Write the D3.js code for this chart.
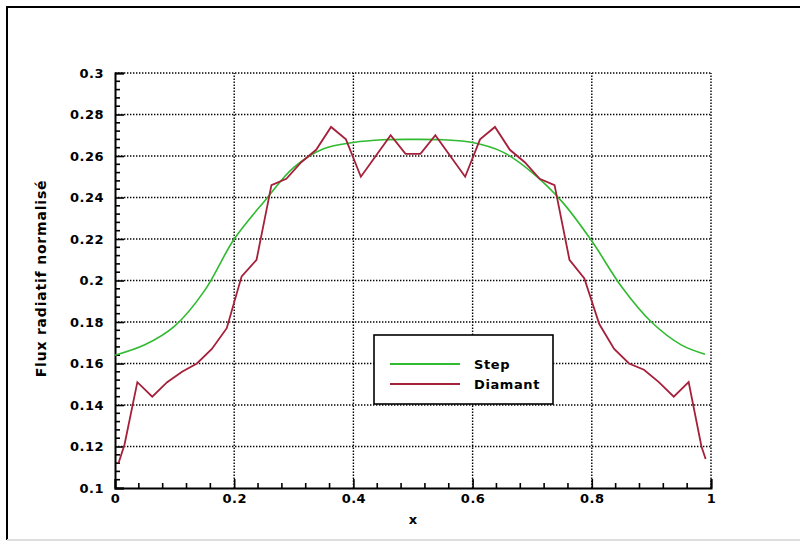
<!DOCTYPE html>
<html>
<head>
<meta charset="utf-8">
<script src="https://cdn.jsdelivr.net/npm/d3@7"></script>
<style>
  body { margin: 0; background: #fff; }
  svg { display: block; }
  text { font-family: "DejaVu Sans", sans-serif; font-weight: bold; fill: #000; }
</style>
</head>
<body>
<div id="chart"></div>
<script>
// values
let xMajor = [0, 0.2, 0.4, 0.6, 0.8, 1];
let xMinor = [0.04, 0.08, 0.12, 0.16, 0.24, 0.28, 0.32, 0.36, 0.44, 0.48, 0.52, 0.56,
              0.64, 0.68, 0.72, 0.76, 0.84, 0.88, 0.92, 0.96];
let yMajor = [0.1, 0.12, 0.14, 0.16, 0.18, 0.2, 0.22, 0.24, 0.26, 0.28, 0.3];
let yMinor = [0.104, 0.108, 0.112, 0.116, 0.124, 0.128, 0.132, 0.136, 0.144, 0.148, 0.152, 0.156,
              0.164, 0.168, 0.172, 0.176, 0.184, 0.188, 0.192, 0.196, 0.204, 0.208, 0.212, 0.216,
              0.224, 0.228, 0.232, 0.236, 0.244, 0.248, 0.252, 0.256, 0.264, 0.268, 0.272, 0.276,
              0.284, 0.288, 0.292, 0.296];
let yTickLabels = ["0.1", "0.12", "0.14", "0.16", "0.18", "0.2", "0.22", "0.24", "0.26", "0.28", "0.3"];
let xTickLabels = ["0", "0.2", "0.4", "0.6", "0.8", "1"];

let stepX = [0, 0.05, 0.1, 0.15, 0.2, 0.25, 0.3, 0.35, 0.4, 0.45, 0.5,
             0.55, 0.6, 0.65, 0.7, 0.75, 0.8, 0.85, 0.9, 0.95, 0.99];
let stepY = [0.164, 0.169, 0.178, 0.195, 0.220, 0.238, 0.2545, 0.2635, 0.2665, 0.2678, 0.268,
             0.2678, 0.2665, 0.262, 0.252, 0.238, 0.219, 0.197, 0.180, 0.169, 0.1645];

let diamX = [0.006, 0.016, 0.0375, 0.0625, 0.0875, 0.1125, 0.1375, 0.1625, 0.1875, 0.2125,
             0.2375, 0.2625, 0.2875, 0.3125, 0.3375, 0.3625, 0.3875, 0.4125, 0.4375, 0.4625,
             0.4875, 0.5125, 0.5375, 0.5625, 0.5875, 0.6125, 0.6375, 0.6625, 0.6875, 0.7125,
             0.7375, 0.7625, 0.7875, 0.8125, 0.8375, 0.8625, 0.8875, 0.9125, 0.9375, 0.9625,
             0.984, 0.991];
let diamY = [0.112, 0.121, 0.151, 0.144, 0.151, 0.156, 0.160, 0.167, 0.177, 0.202,
             0.210, 0.246, 0.249, 0.257, 0.263, 0.274, 0.268, 0.250, 0.260, 0.270,
             0.261, 0.261, 0.270, 0.260, 0.250, 0.268, 0.274, 0.263, 0.257, 0.249,
             0.246, 0.210, 0.201, 0.179, 0.167, 0.160, 0.157, 0.151, 0.144, 0.151,
             0.120, 0.114];

let width = 800, height = 543;
let margin = ({top: 73, right: 89, bottom: 55, left: 115});
let fontSize = 13;

let x = d3.scaleLinear().domain([0, 1]).range([margin.left, width - margin.right]);
let y = d3.scaleLinear().domain([0.1, 0.3]).range([height - margin.bottom, margin.top]);

const svg = d3.select("#chart").append("svg")
    .attr("width", width)
    .attr("height", height);

// outer frame
svg.append("path")
    .attr("d", `M7,${height - 3}V7H${width + 5}`)
    .attr("fill", "none")
    .attr("stroke", "#000")
    .attr("stroke-width", 2);
svg.append("line")
    .attr("x1", 7).attr("x2", width).attr("y1", 540).attr("y2", 540)
    .attr("stroke", "#ddd").attr("stroke-width", 2);

// dotted grid
const grid = svg.append("g")
    .attr("stroke", "#000")
    .attr("stroke-width", 1.4)
    .attr("stroke-dasharray", "1.4 1.6");

grid.selectAll(".vx")
  .data(xMajor.slice(1))
  .join("line")
    .attr("x1", d => x(d)).attr("x2", d => x(d))
    .attr("y1", y(0.1)).attr("y2", y(0.3));

grid.selectAll(".hy")
  .data(yMajor.slice(1))
  .join("line")
    .attr("x1", x(0)).attr("x2", x(1))
    .attr("y1", d => y(d)).attr("y2", d => y(d));

// axes, ticks pointing inward
svg.append("g")
    .attr("transform", `translate(${x(0)},0)`)
    .call(d3.axisLeft(y).tickValues(yMajor).tickSize(-9).tickPadding(11)
      .tickFormat((d, i) => yTickLabels[i]));

svg.append("g")
    .attr("transform", `translate(0,${y(0.1)})`)
    .call(d3.axisBottom(x).tickValues(xMajor).tickSize(-9).tickPadding(6)
      .tickFormat((d, i) => xTickLabels[i]));

svg.selectAll(".domain").attr("stroke", "#000").attr("stroke-width", 2);
svg.selectAll(".tick line").attr("stroke", "#000").attr("stroke-width", 1.6);
svg.selectAll(".tick text")
    .attr("font-size", fontSize)
    .attr("letter-spacing", "0.5px")
    .attr("font-family", "DejaVu Sans, sans-serif")
    .attr("font-weight", "bold")
    .attr("fill", "#000");

// minor ticks
const minor = svg.append("g")
    .attr("stroke", "#000")
    .attr("stroke-width", 1.6);
minor.selectAll(".my")
  .data(yMinor)
  .join("line")
    .attr("x1", x(0)).attr("x2", x(0) + 5)
    .attr("y1", d => y(d)).attr("y2", d => y(d));
minor.selectAll(".mx")
  .data(xMinor)
  .join("line")
    .attr("x1", d => x(d)).attr("x2", d => x(d))
    .attr("y1", y(0.1)).attr("y2", y(0.1) - 5);

// axis titles
svg.append("text")
    .attr("x", x(0.5))
    .attr("y", 524)
    .attr("text-anchor", "middle")
    .attr("font-size", fontSize)
    .text("x");

svg.append("text")
    .attr("transform", `translate(46,${y(0.2) - 2}) rotate(-90)`)
    .attr("text-anchor", "middle")
    .attr("font-size", 14)
    .attr("letter-spacing", "0.8px")
    .text("Flux radiatif normalisé");

// curves
let line = d3.line().x(d => x(d[0])).y(d => y(d[1]));

svg.append("path")
    .datum(d3.zip(stepX, stepY))
    .attr("fill", "none")
    .attr("stroke", "#2fba2f")
    .attr("stroke-width", 1.6)
    .attr("d", line.curve(d3.curveCatmullRom));

svg.append("path")
    .datum(d3.zip(diamX, diamY))
    .attr("fill", "none")
    .attr("stroke", "#a5203a")
    .attr("stroke-width", 1.8)
    .attr("d", line.curve(d3.curveLinear));

// legend
const legend = svg.append("g");
legend.append("rect")
    .attr("x", 374).attr("y", 335)
    .attr("width", 179).attr("height", 69)
    .attr("fill", "#fff")
    .attr("stroke", "#000")
    .attr("stroke-width", 1.6);

let legendItems = [["Step", "#2fba2f"], ["Diamant", "#a5203a"]];
legend.selectAll(".item")
  .data(legendItems)
  .join("g")
    .attr("transform", (d, i) => `translate(0,${364 + i * 20})`)
    .each(function(d) {
      const g = d3.select(this);
      g.append("line")
          .attr("x1", 390).attr("x2", 460)
          .attr("stroke", d[1]).attr("stroke-width", 1.8);
      g.append("text")
          .attr("x", 474).attr("dy", "0.35em")
          .attr("font-size", fontSize)
          .attr("letter-spacing", "0.6px")
          .text(d[0]);
    });
</script>
</body>
</html>
